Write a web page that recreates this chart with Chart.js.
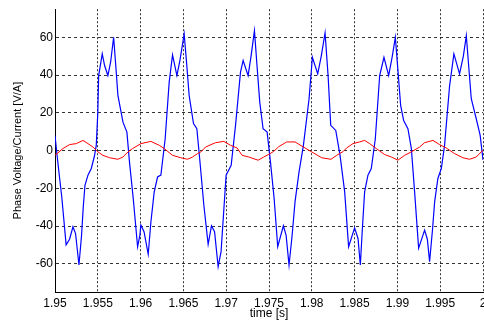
<!DOCTYPE html>
<html>
<head>
<meta charset="utf-8">
<script src="https://cdn.jsdelivr.net/npm/chart.js@4"></script>
<style>
  html, body { margin: 0; padding: 0; background: #fff; }
  canvas { display: block; }
</style>
</head>
<body>
<canvas id="phaseChart" width="484" height="321"></canvas>
<script>
// time axis ticks
const xTicks = [1.95, 1.955, 1.96, 1.965, 1.97, 1.975, 1.98, 1.985, 1.99, 1.995, 2.0];
const xTickLabels = ['1.95', '1.955', '1.96', '1.965', '1.97', '1.975', '1.98', '1.985', '1.99', '1.995', '2'];
const yTicks = [-60, -40, -20, 0, 20, 40, 60];

// phase voltage (blue)
const voltageTime = [
  1.9500, 1.9503, 1.9508, 1.9513, 1.9517, 1.9521, 1.9524, 1.9528, 1.9531, 1.9533,
  1.9535, 1.95385, 1.95424, 1.9546, 1.95482, 1.9550, 1.9551, 1.95552, 1.9558, 1.95618,
  1.9565, 1.95685, 1.9571, 1.95735, 1.95794, 1.9584, 1.9587, 1.95914, 1.95965, 1.95992,
  1.96003, 1.9604, 1.96089, 1.9612, 1.96159, 1.96198, 1.96237, 1.96287, 1.96334, 1.96373,
  1.96424, 1.9646, 1.96509, 1.9654, 1.96567, 1.96618, 1.96657, 1.9669, 1.96739, 1.96789,
  1.96828, 1.96864, 1.96906, 1.9694, 1.96999, 1.97058, 1.97109, 1.97167, 1.97198, 1.97256,
  1.9729, 1.9733, 1.9736, 1.97392, 1.97431, 1.97478, 1.97517, 1.9756, 1.97602, 1.97668,
  1.9770, 1.97734, 1.9777, 1.97804, 1.97851, 1.97902, 1.97968, 1.98007, 1.98069, 1.9811,
  1.98155, 1.9819, 1.98221, 1.9828, 1.9833, 1.98384, 1.9843, 1.9850, 1.9854, 1.98567,
  1.9859, 1.98617, 1.98656, 1.98695, 1.98742, 1.98793, 1.98843, 1.98898, 1.9894, 1.98976,
  1.99038, 1.99073, 1.99123, 1.99163, 1.99201, 1.99248, 1.99318, 1.9935, 1.99376, 1.9941,
  1.99435, 1.99473, 1.99513, 1.99551, 1.9961, 1.9966, 1.99726, 1.9977, 1.99805, 1.99863,
  1.99921, 1.99967, 2.0000
];
const voltageValues = [
  8, -5, -25, -50, -47, -40.4, -44, -60.7, -45, -30,
  -18.4, -13, -9.5, -3, 2.8, 20, 39.8, 51.3, 45, 39.8,
  47, 60.1, 45, 29.3, 15.1, 9.8, -6, -25.4, -51, -44.8,
  -39.5, -43, -55, -38, -21.9, -14, -13, 6.3, 36.3, 50.8,
  39.8, 48, 61.9, 45, 29.3, 14.3, 11.6, -4.2, -29, -49.7,
  -39.9, -43, -61.6, -53.6, -13, -7.8, 13.4, 41.6, 47.8, 39.8,
  50, 63.6, 45, 25.7, 11.6, 9.8, -6, -25.4, -51, -39.9,
  -45, -60.7, -45, -27.2, -11.3, 2.8, 27.5, 49.5, 40.7, 50,
  62.4, 40, 13.4, 10.7, -2.5, -21.9, -51, -41, -46.6, -60.7,
  -42, -21.9, -13, -9.5, 6.3, 39.8, 49.5, 39.8, 50, 60.1,
  24, 16, 11.6, 1.1, -21.9, -51.8, -42.2, -47, -58.9, -42,
  -27.2, -14.8, -9.5, 2.8, 34.5, 51.3, 40.7, 50, 61, 27.5,
  16.9, 8.1, -5
];

// phase current (red)
const currentTime = [
  1.9500, 1.95093, 1.95171, 1.95249, 1.95327, 1.95385, 1.95443, 1.95502, 1.9556, 1.95638,
  1.95735, 1.95794, 1.95852, 1.95907, 1.96004, 1.9612, 1.96218, 1.96276, 1.96373, 1.9647,
  1.96548, 1.96607, 1.96665, 1.96704, 1.96759, 1.96875, 1.96972, 1.9705, 1.97127, 1.97186,
  1.97264, 1.97373, 1.97439, 1.97497, 1.97556, 1.97611, 1.97707, 1.97804, 1.97902, 1.97999,
  1.98116, 1.98224, 1.98291, 1.98369, 1.98407, 1.98481, 1.98559, 1.98617, 1.98676, 1.98753,
  1.98851, 1.98929, 1.99006, 1.99084, 1.99162, 1.9926, 1.99318, 1.99415, 1.99493, 1.9957,
  1.99668, 1.99765, 1.99843, 1.99921, 1.99979, 2.0000
];
const currentValues = [
  -2.5, 1.1, 3.2, 3.7, 5.4, 3.7, 1.9, -0.7, -2.5, -3.8,
  -4.6, -3.4, -0.7, 1.1, 3.7, 4.9, 2.8, 1.1, -2.5, -3.8,
  -4.6, -3.4, -1.6, -0.7, 1.9, 4.2, 4.9, 2.8, 1.4, -2.5,
  -3.4, -5.1, -3.4, -2.0, -0.4, 2.0, 4.6, 4.6, 1.9, -0.7,
  -3.8, -4.6, -2.5, -0.4, 1.4, 3.7, 4.6, 5.4, 3.7, 1.1,
  -2.1, -3.4, -5.1, -2.5, -0.7, 1.9, 4.2, 5.4, 3.2, 1.4,
  -1.6, -3.8, -4.6, -3.4, -0.7, 0.2
];

const fontFamily = '"Liberation Sans", Arial, sans-serif';

const ctx = document.getElementById('phaseChart').getContext('2d');
const chart = new Chart(ctx, {
  type: 'line',
  data: {
    datasets: [{
      label: 'Current',
      data: currentTime.map((t, i) => ({ x: t, y: currentValues[i] })),
      borderColor: '#ff0000',
      borderWidth: 1,
      pointRadius: 0,
      tension: 0
    }, {
      label: 'Voltage',
      data: voltageTime.map((t, i) => ({ x: t, y: voltageValues[i] })),
      borderColor: '#0000ff',
      borderWidth: 1.2,
      pointRadius: 0,
      tension: 0
    }]
  },
  options: {
    responsive: false,
    animation: false,
    devicePixelRatio: 1,
    layout: { padding: { top: 8, right: 1, left: 0, bottom: 0 } },
    plugins: { legend: { display: false }, tooltip: { enabled: false } },
    scales: {
      x: {
        type: 'linear',
        min: 1.95,
        max: 2.0,
        afterBuildTicks: s => { s.ticks = xTicks.map(v => ({ value: v })); },
        afterFit: s => { s.height = 29; s.paddingLeft = 0; s.paddingRight = 0; },
        ticks: {
          callback: (v, i) => xTickLabels[i],
          autoSkip: false,
          maxRotation: 0,
          padding: 4,
          color: '#000',
          font: { family: fontFamily, size: 12 }
        },
        grid: { color: 'rgba(0,0,0,0.8)', drawTicks: false },
        border: { display: true, color: '#000', width: 1, dash: [2, 2] },
        title: {
          display: true,
          text: 'time [s]',
          color: '#000',
          font: { family: fontFamily, size: 12 },
          padding: { top: 0, bottom: 0 }
        }
      },
      y: {
        min: -75,
        max: 75,
        afterBuildTicks: s => { s.ticks = yTicks.map(v => ({ value: v })); },
        afterFit: s => { s.width = 55; },
        ticks: {
          padding: 2,
          color: '#000',
          font: { family: fontFamily, size: 12 }
        },
        grid: { color: 'rgba(0,0,0,0.8)', drawTicks: false },
        border: { display: true, color: '#000', width: 1, dash: [3, 3] },
        title: {
          display: true,
          text: 'Phase Voltage/Current [V/A]',
          color: '#000',
          font: { family: fontFamily, size: 11 },
          padding: { top: 11, bottom: 0 }
        }
      }
    }
  }
});
</script>
</body>
</html>
